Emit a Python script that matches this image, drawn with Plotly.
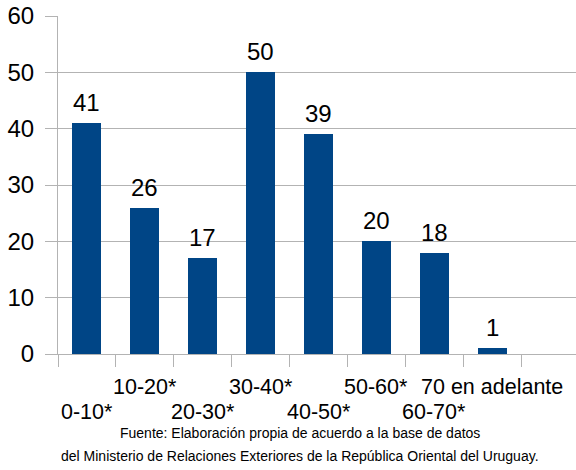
import plotly.graph_objects as go

categories = ["0-10*", "10-20*", "20-30*", "30-40*", "40-50*", "50-60*", "60-70*", "70 en adelante"]
values = [41, 26, 17, 50, 39, 20, 18, 1]
y_ticks = [0, 10, 20, 30, 40, 50, 60]
footer = ["Fuente: Elaboración propia de acuerdo a la base de datos",
          "del Ministerio de Relaciones Exteriores de la República Oriental del Uruguay."]

BAR = "#004586"
GRID = "#b3b3b3"
FONT = "Liberation Sans, Arial, sans-serif"

W, H = 576, 470
L, T, B = 58, 16, 116

xs = list(range(len(categories)))

fig = go.Figure()
fig.add_trace(go.Bar(x=xs, y=values, width=0.5, marker=dict(color=BAR, line=dict(width=0)),
                     hoverinfo="skip"))

annotations = []
for i, v in zip(xs, values):
    annotations.append(dict(x=i, y=v, xref="x", yref="y", text=str(v), showarrow=False,
                            yanchor="bottom", yshift=5,
                            font=dict(family=FONT, size=24, color="black")))
for i, c in enumerate(categories):
    annotations.append(dict(x=i, y=0, xref="x", yref="paper", text=c, showarrow=False,
                            yanchor="middle", yshift=-33 if i % 2 else -58,
                            font=dict(family=FONT, size=21.5, color="black")))
for k, line in enumerate(footer):
    annotations.append(dict(x=(300 - L) / (W - L), xref="paper", y=0, yref="paper",
                            yanchor="middle", yshift=-(79 + 22.5 * k),
                            xanchor="center", text=line, showarrow=False,
                            font=dict(family=FONT, size=14, color="black")))

fig.update_layout(
    width=W, height=H,
    margin=dict(l=L, r=0, t=T, b=B, autoexpand=False),
    paper_bgcolor="white", plot_bgcolor="white",
    showlegend=False, bargap=0,
    annotations=annotations,
    xaxis=dict(range=[-0.5, 8.446], tickmode="array",
               tickvals=[i - 0.5 for i in range(10)], ticktext=[""] * 10,
               ticks="outside", ticklen=12, tickcolor=GRID, tickwidth=1,
               showgrid=False, zeroline=False, showline=True, linecolor=GRID, linewidth=1,
               automargin=False, fixedrange=True),
    yaxis=dict(range=[0, 60], tickmode="array", tickvals=y_ticks,
               ticks="outside", ticklen=12, tickcolor=GRID, tickwidth=1,
               showgrid=True, gridcolor=GRID, gridwidth=1, zeroline=False,
               showline=True, linecolor=GRID, linewidth=1, ticklabelstandoff=6,
               ticklabeloverflow="allow", automargin=False,
               tickfont=dict(family=FONT, size=24, color="black"), fixedrange=True),
)

fig.write_html("out.html", config={"displayModeBar": False},
               post_script="document.body.style.margin='0';")
